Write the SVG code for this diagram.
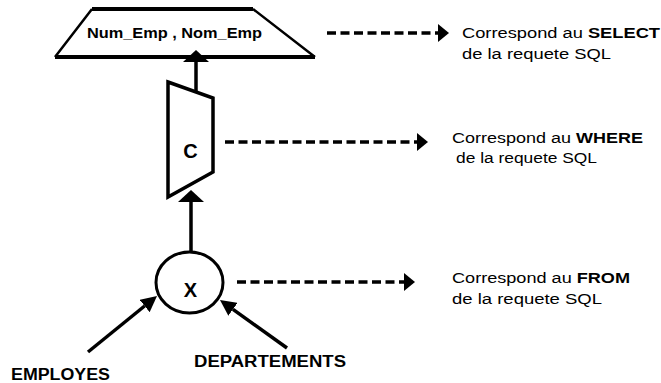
<svg xmlns="http://www.w3.org/2000/svg" width="661" height="383" viewBox="0 0 661 383">
  <style>
    .shape { fill: #fff; stroke: #000; stroke-linejoin: miter; }
    .solid { fill: none; stroke: #000; stroke-width: 3.5; }
    .dash { fill: none; stroke: #000; stroke-width: 3.5; stroke-dasharray: 9 4.5; }
    .lbl { font-family: "Liberation Sans", Arial, sans-serif; fill: #000; }
    .b { font-weight: bold; }
    .note { font-size: 14px; }
  </style>
  <defs>
    <marker id="headDash" markerUnits="userSpaceOnUse" markerWidth="11" markerHeight="18" refX="0" refY="9" orient="auto">
      <path d="M0,0 L11,9 L0,18 z" fill="#000"/>
    </marker>
    <marker id="headUp" markerUnits="userSpaceOnUse" markerWidth="12" markerHeight="26" refX="0" refY="13" orient="auto">
      <path d="M0,0 L12,13 L0,26 z" fill="#000"/>
    </marker>
    <marker id="headDiag" markerUnits="userSpaceOnUse" markerWidth="16" markerHeight="16" refX="0" refY="8" orient="auto">
      <path d="M0,0 L16,8 L0,16 z" fill="#000"/>
    </marker>
  </defs>

  <!-- connectors -->
  <g id="connectors">
    <path class="solid" d="M196,92 V62" marker-end="url(#headUp)"/>
    <path class="solid" d="M191,252 V202" marker-end="url(#headUp)"/>
    <path class="solid" d="M88,352 L144.6,306" marker-end="url(#headDiag)"/>
    <path class="solid" d="M287,348 L233,309.3" marker-end="url(#headDiag)"/>
    <path class="dash" d="M327,33 H438" marker-end="url(#headDash)"/>
    <path class="dash" d="M225,142 H417" marker-end="url(#headDash)"/>
    <path class="dash" d="M237,282 H404" marker-end="url(#headDash)"/>
  </g>

  <!-- projection -->
  <g id="projection">
    <path class="shape" stroke-width="2.5" d="M55,57 L92,9 M253,9 L315,57"/>
    <path fill="none" stroke="#000" stroke-width="4" d="M92,9 H253 M55,57 H315"/>
    <text class="lbl b" x="87" y="38" font-size="14" textLength="175" lengthAdjust="spacingAndGlyphs">Num_Emp , Nom_Emp</text>
  </g>

  <!-- selection -->
  <g id="selection">
    <polygon class="shape" stroke-width="3.5" points="168,82 213,98 213,172 168,197"/>
    <text class="lbl b" x="190.5" y="158" font-size="20" text-anchor="middle">C</text>
  </g>

  <!-- cartesian product -->
  <g id="product">
    <ellipse class="shape" stroke-width="3" cx="189.5" cy="282.5" rx="33.5" ry="30.5"/>
    <text class="lbl b" x="190.5" y="297" font-size="20" text-anchor="middle">X</text>
  </g>

  <g id="employes">
    <text class="lbl b" x="11" y="380" font-size="16" textLength="99" lengthAdjust="spacingAndGlyphs">EMPLOYES</text>
  </g>

  <g id="departements">
    <text class="lbl b" x="194" y="367" font-size="16" textLength="152" lengthAdjust="spacingAndGlyphs">DEPARTEMENTS</text>
  </g>

  <!-- notes -->
  <g id="note-select">
    <text class="lbl note" x="462" y="38" textLength="198" lengthAdjust="spacingAndGlyphs">Correspond au <tspan class="b">SELECT</tspan></text>
    <text class="lbl note" x="462" y="59" textLength="149" lengthAdjust="spacingAndGlyphs">de la requete SQL</text>
  </g>
  <g id="note-where">
    <text class="lbl note" x="452" y="143" textLength="191" lengthAdjust="spacingAndGlyphs">Correspond au <tspan class="b">WHERE</tspan></text>
    <text class="lbl note" x="456" y="163" textLength="141" lengthAdjust="spacingAndGlyphs">de la requete SQL</text>
  </g>
  <g id="note-from">
    <text class="lbl note" x="452" y="283" textLength="178" lengthAdjust="spacingAndGlyphs">Correspond au <tspan class="b">FROM</tspan></text>
    <text class="lbl note" x="452" y="304" textLength="150" lengthAdjust="spacingAndGlyphs">de la requete SQL</text>
  </g>
</svg>
